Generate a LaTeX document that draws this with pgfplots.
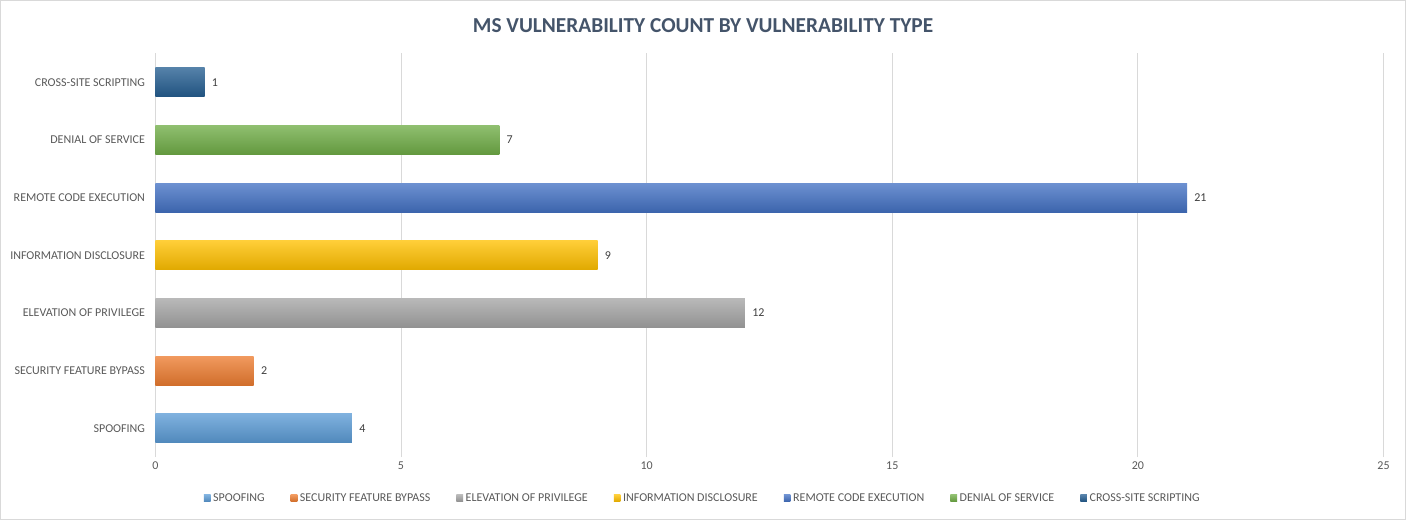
\documentclass[border=0pt]{standalone}
\usepackage{pgfplots}
\pgfplotsset{compat=1.18}
\usepackage{fontspec}
\setmainfont{Carlito}

\definecolor{cSpoof}{HTML}{5B9BD5}
\definecolor{cBypass}{HTML}{ED7D31}
\definecolor{cElev}{HTML}{A5A5A5}
\definecolor{cInfo}{HTML}{FFC000}
\definecolor{cRce}{HTML}{4472C4}
\definecolor{cDos}{HTML}{70AD47}
\definecolor{cXss}{HTML}{255E91}
\definecolor{txt}{HTML}{595959}
\definecolor{lbl}{HTML}{404040}
\definecolor{ttl}{HTML}{44546A}
\definecolor{grd}{HTML}{D9D9D9}

\newcommand{\smallfont}{\fontsize{9}{11}\selectfont}

\begin{document}
\begin{tikzpicture}
\begin{axis}[
    name=ax,
    scale only axis,
    width=921.75pt, height=303pt,
    xmin=0, xmax=25,
    ymin=-0.5, ymax=6.5,
    xtick={0,5,...,25},
    ytick={0,...,6},
    yticklabels={SPOOFING, SECURITY FEATURE BYPASS, ELEVATION OF PRIVILEGE,
                 INFORMATION DISCLOSURE, REMOTE CODE EXECUTION, DENIAL OF SERVICE,
                 CROSS-SITE SCRIPTING},
    xmajorgrids,
    grid style={grd, line width=0.75pt},
    axis line style={draw=none},
    tick style={draw=none},
    ticklabel style={font=\smallfont, text=txt},
    /pgf/number format/assume math mode=true,
    xbar, bar shift=0pt, bar width=21.75pt,
    nodes near coords, point meta=x,
    every node near coord/.append style={font=\smallfont, text=lbl, xshift=2pt},
    legend columns=7,
    legend style={draw=none, at={(0.446,-0.1015)}, anchor=center,
                  font=\smallfont, text=txt,
                  /tikz/every even column/.append style={column sep=17.5pt}},
    legend image code/.code={\fill[#1] (0pt,-2.5pt) rectangle (5pt,2.5pt);},
    clip=false,
]
\addplot[draw=none, top color=cSpoof!78!white, bottom color=cSpoof!88!black] coordinates {(4,0)};
\addplot[draw=none, top color=cBypass!78!white, bottom color=cBypass!88!black] coordinates {(2,1)};
\addplot[draw=none, top color=cElev!78!white, bottom color=cElev!88!black] coordinates {(12,2)};
\addplot[draw=none, top color=cInfo!78!white, bottom color=cInfo!88!black] coordinates {(9,3)};
\addplot[draw=none, top color=cRce!78!white, bottom color=cRce!88!black] coordinates {(21,4)};
\addplot[draw=none, top color=cDos!78!white, bottom color=cDos!88!black] coordinates {(7,5)};
\addplot[draw=none, top color=cXss!78!white, bottom color=cXss!88!black] coordinates {(1,6)};
\legend{SPOOFING, SECURITY FEATURE BYPASS, ELEVATION OF PRIVILEGE,
        INFORMATION DISCLOSURE, REMOTE CODE EXECUTION, DENIAL OF SERVICE,
        CROSS-SITE SCRIPTING}
\end{axis}
\draw[grd, line width=0.75pt] ([xshift=-116.25pt,yshift=-46.5pt]ax.south west)
    rectangle ([xshift=16.5pt,yshift=39.75pt]ax.north east);
\node[font=\bfseries\fontsize{16}{18}\selectfont, text=ttl]
    at ([xshift=411pt,yshift=21pt]ax.north west) {MS VULNERABILITY COUNT BY VULNERABILITY TYPE};
\end{tikzpicture}
\end{document}
